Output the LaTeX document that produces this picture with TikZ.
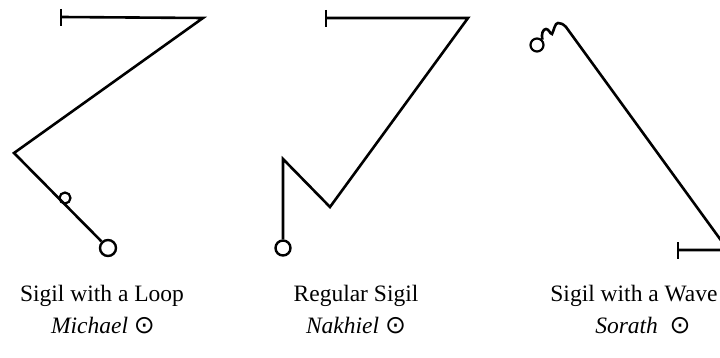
\documentclass[tikz,border=0pt]{standalone}
\usepackage{fontspec}
\setmainfont{Liberation Serif}
\newfontfamily\symfont{DejaVu Sans}
\newcommand{\sunsym}{{\upshape\symfont\fontsize{25}{26}\selectfont ⊙}}
\begin{document}
\begin{tikzpicture}[x=1pt,y=-1pt,
  sig/.style={line width=2.6pt,line join=miter,black},
  ring/.style={circle,draw,line width=2.4pt,inner sep=0pt},
  cap1/.style={inner sep=0pt,font=\fontsize{23.5}{27}\selectfont},
  cap2/.style={inner sep=0pt,font=\fontsize{23.5}{27}\selectfont\itshape}]
\useasboundingbox (0,0) rectangle (720,358);
\clip (0,0) rectangle (720,358);
% Left sigil: loop
\coordinate (a1) at (61,17);
\coordinate (a2) at (203,18);
\coordinate (a3) at (14,153);
\node[ring,minimum size=16pt] (a5) at (108,248) {};
\node[ring,minimum size=11pt,line width=2.2pt] (a4) at (65,198) {};
\draw[sig] (61,9) -- (61,26);
\draw[sig] (a1) -- (a2) -- (a3) -- (a5);
% Middle sigil: regular
\coordinate (b1) at (326,18);
\coordinate (b2) at (468,18);
\coordinate (b3) at (330,207);
\coordinate (b4) at (283,159);
\node[ring,minimum size=15pt] (b5) at (283,248) {};
\draw[sig] (326,10) -- (326,27);
\draw[sig] (b1) -- (b2) -- (b3) -- (b4) -- (b5);
% Right sigil: wave
\node[ring,minimum size=13pt,line width=2.2pt] (c0) at (537,45) {};
\coordinate (c1) at (566,27);
\coordinate (c2) at (728,250);
\coordinate (c3) at (678,250);
\draw[sig] (c0.north east) .. controls (541,34) and (543,29) .. (546,29)
  .. controls (549,29) and (550,34) .. (552,34)
  .. controls (554,30) and (555,23) .. (558,23)
  .. controls (561,23) and (563,24) .. (c1) -- (c2) -- (c3);
\draw[sig] (678,242) -- (678,259);
% Labels
\node[cap1] (t1) at (102,296) {Sigil with a Loop};
\node[cap2] (n1) at (103,326) {Michael \sunsym};
\node[cap1] (t2) at (356,296) {Regular Sigil};
\node[cap2] (n2) at (356,326) {Nakhiel \sunsym};
\node[cap1] (t3) at (634,296) {Sigil with a Wave};
\node[cap2] (n3) at (643,326) {Sorath \ \sunsym};
\end{tikzpicture}
\end{document}
